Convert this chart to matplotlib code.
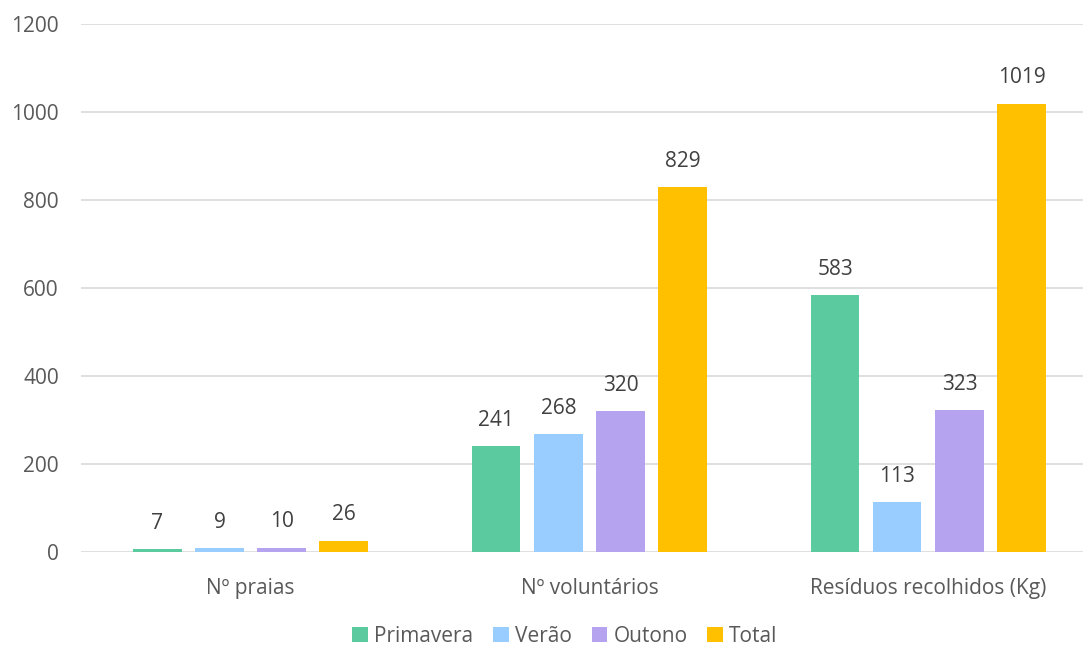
import numpy as np
import matplotlib
matplotlib.use("Agg")
import matplotlib.pyplot as plt

categorias = ["Nº praias", "Nº voluntários", "Resíduos recolhidos (Kg)"]
series = ["Primavera", "Verão", "Outono", "Total"]
primavera = [7, 241, 583]
verao = [9, 268, 113]
outono = [10, 320, 323]
total = [26, 829, 1019]
cores = ["#5BCB9F", "#99CCFF", "#B5A3F0", "#FFC000"]

plt.rcParams['font.family'] = ['Open Sans', 'DejaVu Sans']
cor_texto = "#595959"

fig = plt.figure(figsize=(10.83, 6.46), dpi=100)
ax = fig.add_axes([81 / 1083, 1 - 552 / 646, 1 - 81 / 1083, (552 - 24) / 646])

x = np.arange(len(categorias))
largura = 0.142
passo = 0.183
offsets = [-1.5 * passo, -0.5 * passo, 0.5 * passo, 1.5 * passo]

for valores, nome, cor, off in zip([primavera, verao, outono, total], series, cores, offsets):
    barras = ax.bar(x + off, valores, largura, color=cor, label=nome, zorder=3)
    for b, v in zip(barras, valores):
        ax.annotate(str(v), (b.get_x() + b.get_width() / 2, v), xytext=(0, 11),
                    textcoords="offset points", ha="center", va="bottom",
                    fontsize=15, color="#404040")

ax.set_ylim(0, 1200)
ax.set_xlim(-0.5, 2.456)
ax.set_yticks(range(0, 1201, 200))
ax.grid(axis="y", color="#D9D9D9", linewidth=1.2, zorder=0)
for s in ax.spines.values():
    s.set_visible(False)
ax.tick_params(axis="both", length=0, labelsize=15, colors=cor_texto)
ax.tick_params(axis="y", pad=16)
ax.set_xticks(x)
ax.set_xticklabels(categorias)
ax.tick_params(axis="x", pad=19)

fig.legend(loc="center", bbox_to_anchor=(565 / 1083, 1 - 636 / 646), ncol=4, frameon=False,
           fontsize=15, handlelength=0.75, handleheight=0.75, handletextpad=0.3, columnspacing=0.95,
           labelcolor=cor_texto)

fig.savefig("out.png", dpi=100)
